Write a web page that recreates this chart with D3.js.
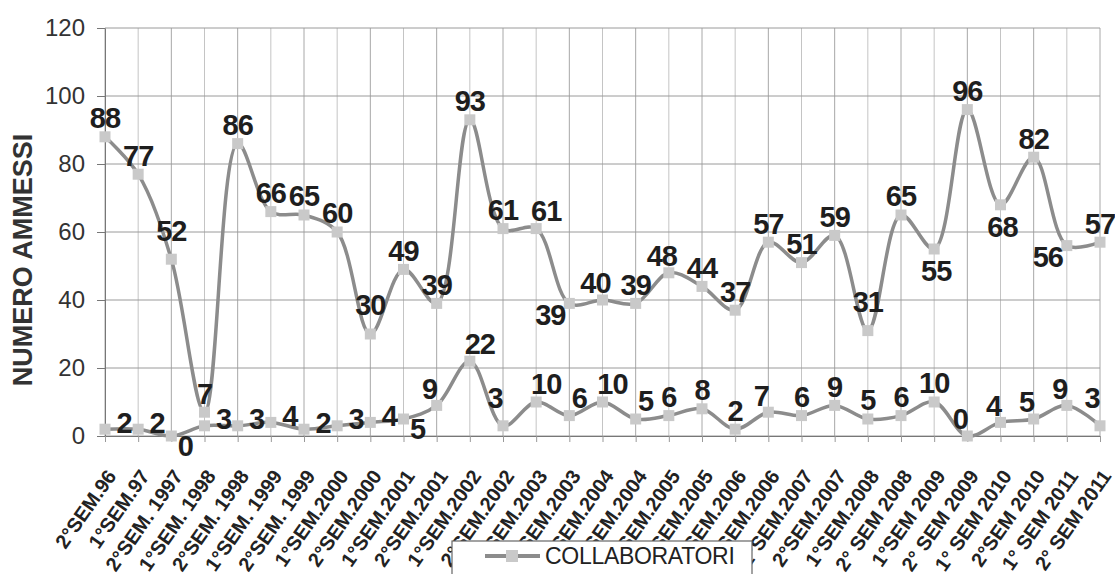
<!DOCTYPE html>
<html>
<head>
<meta charset="utf-8">
<script src="https://cdnjs.cloudflare.com/ajax/libs/d3/7.8.5/d3.min.js"></script>
<style>
  html, body { margin: 0; padding: 0; background: #fff; }
  svg { display: block; font-family: "Liberation Sans", Arial, sans-serif; }
</style>
</head>
<body>
<svg id="chart" width="1115" height="574"></svg>
<script>
// ---- data ----
const categories = [
  "2°SEM.96", "1°SEM.97", "2°SEM. 1997", "1°SEM. 1998", "2°SEM. 1998",
  "1°SEM. 1999", "2°SEM. 1999", "1°SEM.2000", "2°SEM.2000", "1°SEM.2001",
  "2°SEM.2001", "1°SEM.2002", "2°SEM.2002", "1°SEM.2003", "2°SEM.2003",
  "1°SEM.2004", "2°SEM.2004", "1°SEM.2005", "2°SEM.2005", "1°SEM.2006",
  "2°SEM.2006", "1°SEM.2007", "2°SEM.2007", "1°SEM.2008", "2° SEM 2008",
  "1°SEM 2009", "2° SEM 2009", "1° SEM 2010", "2°SEM 2010", "1° SEM 2011",
  "2° SEM 2011"
];
const ammessi = [88, 77, 52, 7, 86, 66, 65, 60, 30, 49, 39, 93, 61, 61, 39, 40, 39, 48, 44, 37, 57, 51, 59, 31, 65, 55, 96, 68, 82, 56, 57];
const collaboratori = [2, 2, 0, 3, 3, 4, 2, 3, 4, 5, 9, 22, 3, 10, 6, 10, 5, 6, 8, 2, 7, 6, 9, 5, 6, 10, 0, 4, 5, 9, 3];
const yTicks = [0, 20, 40, 60, 80, 100, 120];
const yTitle = "NUMERO AMMESSI";
const legendLabel = "COLLABORATORI";

// label placement codes (style, separate from data)
const ammessiLabelPos = ["a","a","ah","a","a","a","a","a","ah","a","a","a","a","ar","bl","al","a","al","a","a","a","a","a","ah","a","b","a","b","a","bl","a"];
const collabLabelPos  = ["r","r","br","r","r","r","r","r","r","br","al","ar","alh","ar","ar","ar","ar","a","a","a","al","a","a","a","a","a","al","al","al","al","alh"];
const offsets = {
  a:  [0, -19], ah: [0, -29], ar: [10, -18], al: [-7, -17], alh: [-8, -28],
  b:  [2, 22],  bl: [-19, 11], r: [19, -7], br: [14, 10]
};

// ---- layout ----
const svg = d3.select("#chart");
const x = d3.scalePoint().domain(categories).range([105, 1100]);
const y = d3.scaleLinear().domain([0, 120]).range([436, 28]);

const lineColor = "#8c8c8c";
const markerColor = "#c9c9c9";

// grid
const grid = svg.append("g");
grid.selectAll("line.v").data(categories).join("line")
  .attr("x1", d => x(d)).attr("x2", d => x(d))
  .attr("y1", y(120)).attr("y2", y(0))
  .attr("stroke", (d, i) => i % 2 ? "#c4c4c4" : "#a8a8a8").attr("stroke-width", 1);
grid.selectAll("line.h").data(yTicks).join("line")
  .attr("x1", x.range()[0]).attr("x2", x.range()[1])
  .attr("y1", d => y(d)).attr("y2", d => y(d))
  .attr("stroke", "#9a9a9a").attr("stroke-width", 1);

// y axis
const yAxis = svg.append("g").attr("transform", `translate(${x.range()[0]},0)`)
  .call(d3.axisLeft(y).tickValues(yTicks).tickSize(8).tickSizeOuter(0).tickPadding(12));
yAxis.select(".domain").attr("stroke", "#777");
yAxis.selectAll(".tick line").attr("stroke", "#777");
yAxis.selectAll(".tick text").attr("font-size", 24).attr("fill", "#333")
  .attr("font-family", "Liberation Sans, Arial, sans-serif");

// y title
svg.append("text")
  .attr("transform", `translate(32,260) rotate(-90)`)
  .attr("text-anchor", "middle")
  .attr("font-size", 27).attr("font-weight", "bold").attr("fill", "#333")
  .text(yTitle);

// x axis
const xAxis = svg.append("g").attr("transform", `translate(0,${y(0)})`)
  .call(d3.axisBottom(x).tickSize(6).tickSizeOuter(0));
xAxis.select(".domain").attr("stroke", "#777");
xAxis.selectAll(".tick line").attr("stroke", "#999");
xAxis.selectAll(".tick text")
  .attr("x", 0).attr("y", 0).attr("dy", "0.35em")
  .attr("transform", "translate(6,36) rotate(-55)")
  .attr("text-anchor", "end")
  .attr("font-size", 20).attr("font-weight", "bold").attr("fill", "#222")
  .attr("font-family", "Liberation Sans, Arial, sans-serif");

// series
const lineGen = d3.line()
  .x((d, i) => x(categories[i]))
  .y(d => y(d))
  .curve(d3.curveCatmullRom.alpha(0.5));

function drawSeries(values, posCodes) {
  const g = svg.append("g");
  g.append("path").datum(values)
    .attr("d", lineGen)
    .attr("fill", "none").attr("stroke", lineColor).attr("stroke-width", 3.5)
    .attr("stroke-linejoin", "round");
  const ms = 11;
  g.selectAll("rect").data(values).join("rect")
    .attr("x", (d, i) => x(categories[i]) - ms / 2)
    .attr("y", d => y(d) - ms / 2)
    .attr("width", ms).attr("height", ms)
    .attr("fill", markerColor);
  g.selectAll("text").data(values).join("text")
    .attr("x", (d, i) => x(categories[i]) + offsets[posCodes[i]][0])
    .attr("y", (d, i) => y(d) + offsets[posCodes[i]][1])
    .attr("dy", "0.36em")
    .attr("text-anchor", "middle")
    .attr("font-size", 29).attr("font-weight", "bold").attr("fill", "#1e1e1e")
    .attr("letter-spacing", -1)
    .text(d => d);
}
drawSeries(ammessi, ammessiLabelPos);
drawSeries(collaboratori, collabLabelPos);

// legend
const lg = svg.append("g");
lg.append("rect").attr("x", 452).attr("y", 541).attr("width", 300).attr("height", 45)
  .attr("fill", "#fff").attr("stroke", "#666").attr("stroke-width", 1.2);
lg.append("line").attr("x1", 485).attr("x2", 540).attr("y1", 556).attr("y2", 556)
  .attr("stroke", lineColor).attr("stroke-width", 4);
lg.append("rect").attr("x", 506).attr("y", 550).attr("width", 12).attr("height", 12)
  .attr("fill", markerColor);
lg.append("text").attr("x", 545).attr("y", 556).attr("dy", "0.36em")
  .attr("font-size", 23).attr("fill", "#222").attr("letter-spacing", -0.3).text(legendLabel);
</script>
</body>
</html>
